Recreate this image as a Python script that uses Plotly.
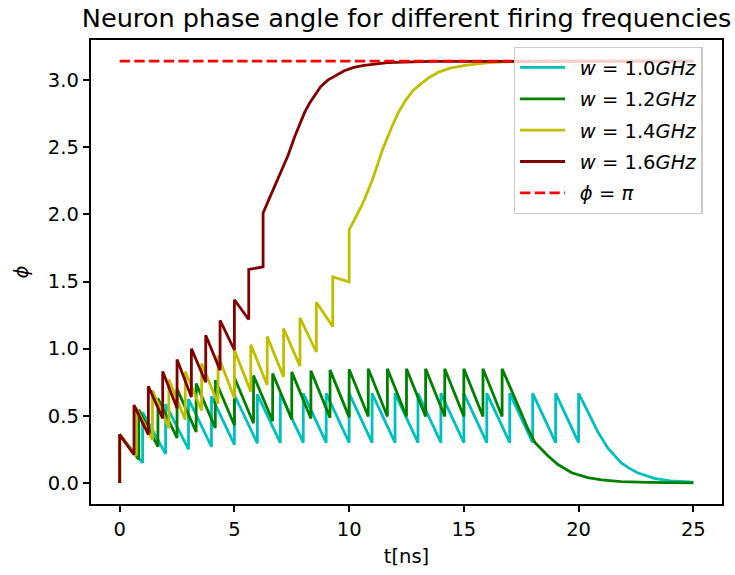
import plotly.graph_objects as go

# ---------------- data ----------------
# w = 1.0 GHz (cyan): spike times, value just before spike, value just after spike
cyan_spike_t = [0, 1, 2, 3, 4, 5, 6, 7, 8, 9, 10, 11, 12, 13, 14, 15, 16, 17, 18, 19, 20]
cyan_before = [0.0, 0.15, 0.216, 0.25, 0.27, 0.285, 0.295, 0.298, 0.30, 0.30, 0.30,
               0.30, 0.30, 0.30, 0.30, 0.30, 0.30, 0.30, 0.30, 0.30, 0.30]
cyan_after = [0.36, 0.527, 0.586, 0.625, 0.645, 0.655, 0.66, 0.665, 0.667, 0.667, 0.667,
              0.667, 0.667, 0.667, 0.667, 0.667, 0.667, 0.667, 0.667, 0.667, 0.667]
cyan_tail_t = [20.2, 20.4, 20.84, 21.27, 21.85, 22.2, 22.57, 23.3, 23.7, 24.0, 25.0]
cyan_tail_phi = [0.60, 0.53, 0.38, 0.26, 0.15, 0.11, 0.076, 0.034, 0.022, 0.015, 0.005]

# w = 1.2 GHz (green)
green_spike_t = [0.0, 0.833, 1.667, 2.5, 3.333, 4.167, 5.0, 5.833, 6.667, 7.5, 8.333,
                 9.167, 10.0, 10.833, 11.667, 12.5, 13.333, 14.167, 15.0, 15.833, 16.667]
green_before = [0.0, 0.175, 0.27, 0.335, 0.38, 0.41, 0.43, 0.445, 0.46, 0.472, 0.48,
                0.486, 0.49, 0.495, 0.495, 0.495, 0.495, 0.495, 0.495, 0.495, 0.495]
green_after = [0.36, 0.545, 0.63, 0.70, 0.74, 0.765, 0.785, 0.80, 0.815, 0.827, 0.835,
               0.842, 0.846, 0.85, 0.85, 0.85, 0.85, 0.85, 0.85, 0.85, 0.85]
green_tail_t = [17.1, 17.5, 17.8, 18.1, 18.4, 18.67, 19.1, 19.7, 20.4, 21.0, 21.85, 23.0, 25.0]
green_tail_phi = [0.68, 0.52, 0.40, 0.30, 0.245, 0.20, 0.137, 0.076, 0.04, 0.022, 0.01, 0.004, 0.0]

# w = 1.4 GHz (yellow)
yellow_spike_t = [0.0, 0.714, 1.429, 2.143, 2.857, 3.571, 4.286, 5.0, 5.714, 6.429,
                  7.143, 7.857, 8.571, 9.286, 10.0]
yellow_before = [0.0, 0.20, 0.32, 0.41, 0.47, 0.54, 0.59, 0.63, 0.68, 0.73,
                 0.79, 0.87, 0.975, 1.165, 1.497]
yellow_after = [0.36, 0.56, 0.69, 0.77, 0.83, 0.89, 0.95, 0.99, 1.03, 1.09,
                1.15, 1.23, 1.345, 1.534, 1.887]
yellow_tail_t = [10.2, 10.59, 11.02, 11.45, 11.88, 12.15, 12.46, 12.8, 13.18, 13.5, 13.9,
                 14.4, 15.06, 16.07, 17.0, 18.0, 25.0]
yellow_tail_phi = [1.95, 2.08, 2.26, 2.48, 2.66, 2.76, 2.85, 2.925, 2.98, 3.02, 3.06,
                   3.09, 3.11, 3.13, 3.138, 3.141, 3.1416]

# w = 1.6 GHz (dark red)
red_spike_t = [0.0, 0.625, 1.25, 1.875, 2.5, 3.125, 3.75, 4.375, 5.0, 5.625, 6.25]
red_before = [0.0, 0.21, 0.36, 0.48, 0.556, 0.64, 0.75, 0.84, 0.99, 1.217, 1.61]
red_after = [0.36, 0.58, 0.72, 0.83, 0.92, 1.00, 1.10, 1.21, 1.364, 1.59, 2.01]
red_tail_t = [6.5, 6.76, 7.05, 7.34, 7.63, 7.85, 8.06, 8.28, 8.49, 8.75, 9.07, 9.4,
              9.79, 10.2, 10.66, 11.67, 12.5, 13.5, 25.0]
red_tail_phi = [2.11, 2.21, 2.32, 2.44, 2.58, 2.675, 2.76, 2.83, 2.885, 2.95, 3.0, 3.035,
                3.07, 3.095, 3.11, 3.13, 3.137, 3.14, 3.1416]

# phi = pi reference
pi_t = [0.0, 25.0]
pi_phi = [3.14159, 3.14159]

SP = "\u2002"
labels = [SP + "<i>w</i> = 1.0<i>GHz</i>", SP + "<i>w</i> = 1.2<i>GHz</i>",
          SP + "<i>w</i> = 1.4<i>GHz</i>", SP + "<i>w</i> = 1.6<i>GHz</i>"]
pi_label = SP + "<i>ϕ</i> = <i>π</i>"
colors = ["#00BFBF", "#008000", "#BFBF00", "#800000"]

x_ticks = [0, 5, 10, 15, 20, 25]
y_ticks = [0.0, 0.5, 1.0, 1.5, 2.0, 2.5, 3.0]


def build(spike_t, before, after, tail_t, tail_phi):
    xs, ys = [], []
    for t, lo, hi in zip(spike_t, before, after):
        xs += [t, t]
        ys += [lo, hi]
    xs += list(tail_t)
    ys += list(tail_phi)
    return xs, ys


series = [
    build(cyan_spike_t, cyan_before, cyan_after, cyan_tail_t, cyan_tail_phi),
    build(green_spike_t, green_before, green_after, green_tail_t, green_tail_phi),
    build(yellow_spike_t, yellow_before, yellow_after, yellow_tail_t, yellow_tail_phi),
    build(red_spike_t, red_before, red_after, red_tail_t, red_tail_phi),
]

FONT = "DejaVu Sans"
TS = 19.5
fig = go.Figure()
for i, ((xs, ys), lab, col) in enumerate(zip(series, labels, colors)):
    fig.add_trace(go.Scatter(x=xs, y=ys, mode="lines", name=lab,
                             line=dict(color=col, width=2.8, shape="linear"),
                             legendgroup=f"g{i}"))
fig.add_trace(go.Scatter(x=pi_t, y=pi_phi, mode="lines", name=pi_label,
                         line=dict(color="#FF0000", width=2.8, dash="10.3px,4.4px"),
                         legendgroup="g4"))

axis_common = dict(showgrid=False, zeroline=False, showline=True, linecolor="black",
                   linewidth=1.5, mirror=True, ticks="outside", ticklen=6.5,
                   tickwidth=1.5, tickcolor="black",
                   tickfont=dict(family=FONT, size=TS, color="black"))

fig.update_layout(
    width=735, height=575,
    margin=dict(l=91, r=11, t=40, b=66, pad=0),
    paper_bgcolor="white", plot_bgcolor="white",
    font=dict(family=FONT, size=TS, color="black"),
    title=dict(text="Neuron phase angle for different firing frequencies",
               font=dict(family=FONT, size=25.6, color="black"),
               x=0.5, xref="paper", xanchor="center",
               y=1 - 18 / 575, yref="container", yanchor="middle"),
    xaxis=dict(range=[-1.25, 26.25], tickvals=x_ticks,
               ticktext=[str(v) for v in x_ticks],
               title=dict(text="t[ns]", standoff=10,
                          font=dict(family=FONT, size=TS, color="black")),
               **axis_common),
    yaxis=dict(range=[-0.157, 3.299], tickvals=y_ticks,
               ticktext=[f"{v:.1f}" for v in y_ticks],
               title=dict(text="<i>ϕ</i>", standoff=14,
                          font=dict(family=FONT, size=TS, color="black")),
               **axis_common),
    legend=dict(x=0.67, y=0.985, xanchor="left", yanchor="top",
                bgcolor="rgba(255,255,255,0.8)", bordercolor="#cccccc",
                borderwidth=1.3, font=dict(family=FONT, size=TS, color="black"),
                tracegroupgap=3, itemwidth=45),
    showlegend=True,
)

fig.write_html("out.html")
